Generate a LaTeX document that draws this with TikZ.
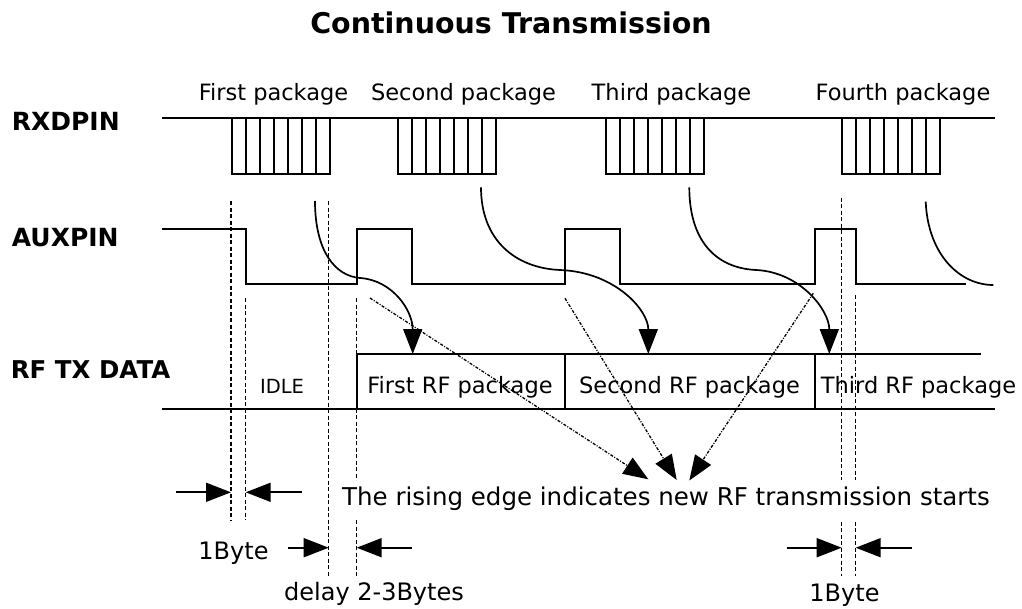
\documentclass[tikz,border=0pt]{standalone}
\usepackage{fontspec}
\setmainfont{DejaVu Sans}
\usetikzlibrary{arrows.meta}
\begin{document}
\begin{tikzpicture}[x=1pt,y=-1pt,line width=1.7pt,
  dsh/.style={line width=1.3pt,dash pattern=on 4pt off 2.5pt},
  ddot/.style={line width=1.3pt,dash pattern=on 3pt off 1.5pt on 1pt off 1.5pt},
  bigtip/.style={-{Triangle[length=25pt,width=19pt]}},
  curvearrow/.style={line width=1.7pt,bigtip},
  txt/.style={inner sep=0pt,anchor=base,font=\fontsize{22.5}{26}\selectfont},
  bigtxt/.style={inner sep=0pt,anchor=base,font=\fontsize{24}{28}\selectfont},
  pin/.style={inner sep=0pt,anchor=base west,font=\bfseries\fontsize{25}{29}\selectfont}]
\useasboundingbox (0,0) rectangle (1022,608);
% title
\node[inner sep=0pt,anchor=base,font=\bfseries\fontsize{28.5}{32}\selectfont] (title) at (511,33.3) {Continuous Transmission};
% pin labels
\node[pin] (rx) at (11,130.7) {RXDPIN};
\node[pin] (aux) at (11,246) {AUXPIN};
\node[pin,font=\bfseries\fontsize{24.5}{29}\selectfont] (rf) at (10,378.3) {RF TX DATA};
% package labels
\node[txt] (p1) at (273.5,100.5) {First package};
\node[txt] (p2) at (463.5,100.5) {Second package};
\node[txt] (p3) at (671.5,100.5) {Third package};
\node[txt] (p4) at (903,100.5) {Fourth package};
% RXDPIN waveform
\draw (162,117.7) -- (995,117.7);
\foreach \s in {231.7,398.3,606,842.3}{
  \draw (\s,117.7) -- (\s,173.7) -- (\s+98,173.7) -- (\s+98,117.7);
  \foreach \k in {1,...,6}{\draw (\s+14*\k,117.7) -- (\s+14*\k,173.7);}
}
% AUXPIN waveform
\draw (162,229.3) -- (245.7,229.3) -- (245.7,284) -- (356.7,284) -- (356.7,229.3)
  -- (412,229.3) -- (412,284) -- (565,284) -- (565,229.3) -- (620.3,229.3)
  -- (620.3,284) -- (814.7,284) -- (814.7,229.3) -- (856,229.3) -- (856,284) -- (966,284);
% RF TX DATA
\draw (356.7,354) -- (980.7,354);
\draw (162,409) -- (995,409);
\foreach \x in {356.7,565,814.7}{\draw (\x,354) -- (\x,409);}
\node[txt,font=\fontsize{19.5}{22}\selectfont] (idle) at (282,393.3) {IDLE};
\node[txt] (rf1) at (460,393.3) {First RF package};
\node[txt] (rf2) at (689.5,393.3) {Second RF package};
\node[txt] (rf3) at (918.5,393.3) {Third RF package};
% dashed verticals
\draw[dsh] (231,201) -- (231,520);
\draw[dsh] (245.7,298) -- (245.7,520);
\draw[dsh] (328.7,201) -- (328.7,576);
\draw[dsh] (356.7,298) -- (356.7,480) (356.7,520) -- (356.7,576);
\draw[dsh] (841.7,197.7) -- (841.7,480) (841.7,521.7) -- (841.7,576);
\draw[dsh] (855.7,295) -- (855.7,480) (855.7,521.7) -- (855.7,576);
% curved arrows
\coordinate (c1s) at (315,201);   \coordinate (c1m) at (360,278);   \coordinate (c1e) at (412.7,354);
\coordinate (c2s) at (481,187.3); \coordinate (c2m) at (560,270);   \coordinate (c2e) at (648.3,354);
\coordinate (c3s) at (689.3,187.3); \coordinate (c3m) at (756,270); \coordinate (c3e) at (829.3,354);
\coordinate (c4s) at (925.7,201.7); \coordinate (c4e) at (993.3,285);
\draw[curvearrow] (c1s) .. controls (315,251) and (335,276) .. (c1m) .. controls (392,280) and (412.7,310) .. (c1e);
\draw[curvearrow] (c2s) .. controls (481,240) and (515,268) .. (c2m) .. controls (615,272) and (648.3,310) .. (c2e);
\draw[curvearrow] (c3s) .. controls (689.3,240) and (715,268) .. (c3m) .. controls (800,272) and (829.3,310) .. (c3e);
\draw (c4s) .. controls (928,255) and (960,285) .. (c4e);
% note and dash-dot arrows
\node[bigtxt,font=\fontsize{24.5}{28}\selectfont] (note) at (666,505) {The rising edge indicates new RF transmission starts};
\coordinate (ta) at (648.3,479.3); \coordinate (tb) at (676.7,480); \coordinate (tc) at (689.3,480.5);
\coordinate (sa) at (370,298); \coordinate (sb) at (565,298.3); \coordinate (sc) at (813.3,293.3);
\draw[ddot,bigtip] (sa) -- (ta);
\draw[ddot,bigtip] (sb) -- (tb);
\draw[ddot,bigtip] (sc) -- (tc);
% dimension arrows
\coordinate (a1l) at (175.7,492.3); \coordinate (a1t) at (231,492.3);
\coordinate (a1r) at (301.7,492.3); \coordinate (a1u) at (245.7,492.3);
\draw[bigtip] (a1l) -- (a1t);
\draw[bigtip] (a1r) -- (a1u);
\coordinate (a2l) at (287.7,547.7); \coordinate (a2t) at (328.7,547.7);
\coordinate (a2r) at (411.7,547.7); \coordinate (a2u) at (356.7,547.7);
\draw[bigtip] (a2l) -- (a2t);
\draw[bigtip] (a2r) -- (a2u);
\coordinate (a3l) at (786.7,547.7); \coordinate (a3t) at (841.7,547.7);
\coordinate (a3r) at (912.3,547.7); \coordinate (a3u) at (855.7,547.7);
\draw[bigtip] (a3l) -- (a3t);
\draw[bigtip] (a3r) -- (a3u);
\node[bigtxt] (b1) at (233.5,559.3) {1Byte};
\node[bigtxt] (delay) at (374,600) {delay 2-3Bytes};
\node[bigtxt] (b2) at (844.5,601.7) {1Byte};
\end{tikzpicture}
\end{document}
